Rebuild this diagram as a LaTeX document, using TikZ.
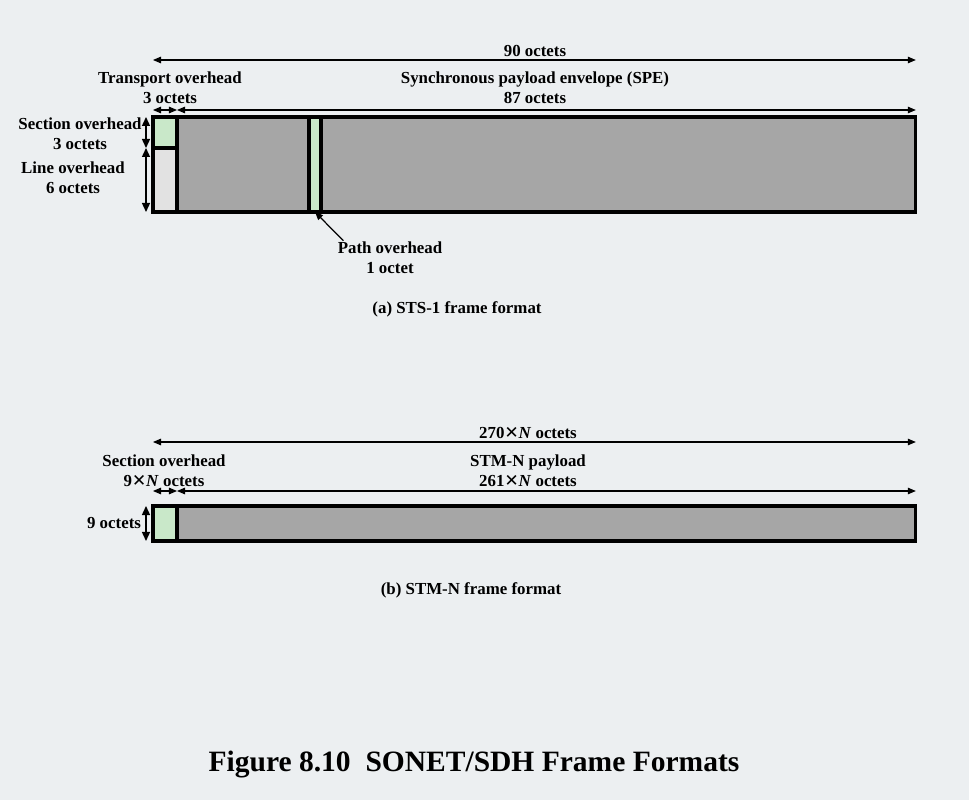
\documentclass[tikz,border=0pt]{standalone}
\usepackage{fontspec}
\setmainfont{Liberation Serif}
\newfontfamily\symfont{DejaVu Sans}
\usetikzlibrary{positioning, arrows.meta, calc}
\definecolor{sbg}{HTML}{ECEFF1}
\definecolor{sgreen}{HTML}{C9E8C9}
\definecolor{sgray}{HTML}{A6A6A6}
\definecolor{slight}{HTML}{E2E2E2}
\newcommand{\tms}{{\symfont ✕}}
\tikzset{
  cell/.style={draw=black, line width=1.8pt, inner sep=0pt, outer sep=0pt, anchor=north west},
  dim/.style={{Triangle[length=1.6mm,width=1.3mm]}-{Triangle[length=1.6mm,width=1.3mm]}, line width=0.6pt},
  vdim/.style={{Triangle[length=1.8mm,width=1.6mm]}-{Triangle[length=1.8mm,width=1.6mm]}, line width=0.8pt},
  pointer/.style={-{Triangle[length=1.6mm,width=1.3mm]}, line width=0.7pt},
  lbl/.style={font=\bfseries\fontsize{9.6}{11.3}\selectfont, align=center, inner sep=0pt},
}

\begin{document}
\begin{tikzpicture}[x=0.02cm, y=-0.02cm]
        \fill[sbg] (0,0) rectangle (969,800);
        % (a) STS-1 frame
        \node[cell, fill=sgray, minimum width=14.78cm, minimum height=1.9cm] (spe) at (177,117) {};
        \node[cell, fill=sgreen, minimum width=0.24cm, minimum height=1.9cm] (po) at (309,117) {};
        \node[cell, fill=sgreen, minimum width=0.48cm, minimum height=0.62cm] (so) at (153,117) {};
        \node[cell, fill=slight, minimum width=0.48cm, minimum height=1.28cm] (lo) at (153,148) {};

        \node[lbl] (oct90) at (535,51) {90 octets};
        \node[lbl] (tolbl) at (170,88) {Transport overhead\\3 octets};
        \node[lbl] (spelbl) at (535,88) {Synchronous payload envelope (SPE)\\87 octets};
        \node[lbl] (solbl) at (80,134) {Section overhead\\3 octets};
        \node[lbl] (lolbl) at (73,178) {Line overhead\\6 octets};
        \node[lbl] (polbl) at (390,258) {Path overhead\\1 octet};
        \node[lbl] (capa) at (457,309) {(a) STS-1 frame format};

        \draw[dim] ($(so.north west)+(0,-57)$) -- ($(spe.north east)+(0,-57)$);
        \draw[dim] ($(so.north west)+(0,-7)$) -- ($(so.north east)+(0,-7)$);
        \draw[dim] ($(spe.north west)+(0,-7)$) -- ($(spe.north east)+(0,-7)$);
        \draw[vdim] ($(so.north west)+(-7,0)$) -- ($(so.south west)+(-7,0)$);
        \draw[vdim] ($(lo.north west)+(-7,0)$) -- ($(lo.south west)+(-7,0)$);
        \draw[pointer] ($(polbl.north west)+(6,-1)$) -- (po.south);

        % (b) STM-N frame
        \node[cell, fill=sgray, minimum width=14.78cm, minimum height=0.7cm] (stm) at (177,506) {};
        \node[cell, fill=sgreen, minimum width=0.48cm, minimum height=0.7cm] (soh) at (153,506) {};

        \node[lbl] (oct270) at (528,433) {270\tms\textit{N} octets};
        \node[lbl] (sohlbl) at (164,471) {Section overhead\\9\tms\textit{N} octets};
        \node[lbl] (stmlbl) at (528,471) {STM-N payload\\261\tms\textit{N} octets};
        \node[lbl] (rows9) at (114,523) {9 octets};
        \node[lbl] (capb) at (471,590) {(b) STM-N frame format};

        \draw[dim] ($(soh.north west)+(0,-64)$) -- ($(stm.north east)+(0,-64)$);
        \draw[dim] ($(soh.north west)+(0,-15)$) -- ($(soh.north east)+(0,-15)$);
        \draw[dim] ($(stm.north west)+(0,-15)$) -- ($(stm.north east)+(0,-15)$);
        \draw[vdim] ($(soh.north west)+(-7,0)$) -- ($(soh.south west)+(-7,0)$);

        \node[font=\bfseries\fontsize{16.8}{20}\selectfont, inner sep=0pt] (title) at (474,765) {Figure 8.10\ \ SONET/SDH Frame Formats};
      \end{tikzpicture}
\end{document}
